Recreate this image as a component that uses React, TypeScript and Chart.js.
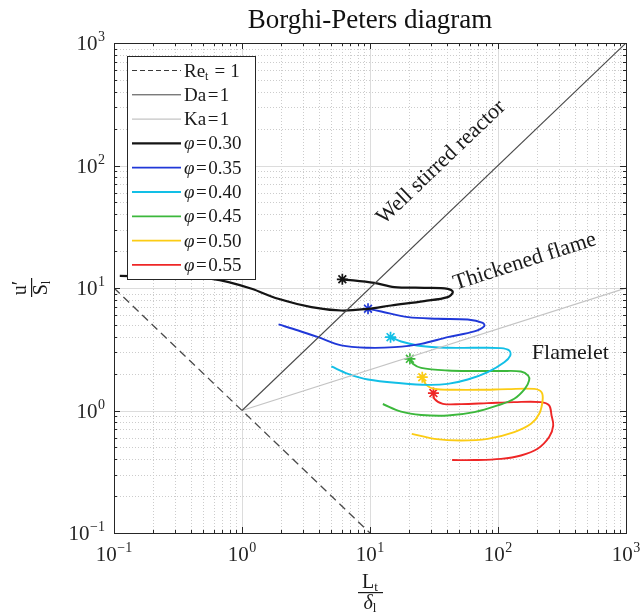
import React, { useEffect, useRef } from 'react';
import { Chart, registerables } from 'chart.js';

Chart.register(...registerables);

const SERIF = '"Liberation Serif", "DejaVu Serif", serif';
const INK = '#262626';

// Axis decades (log scale) and their exponent labels
const tickValues = [0.1, 1, 10, 100, 1000];
const tickExponents = ['\u22121', '0', '1', '2', '3'];

// Regime boundaries
const reLineX = [0.1, 10];
const reLineY = [10, 0.1];
const daLineX = [1, 1000];
const daLineY = [1, 1000];
const kaLineX = [1, 1000];
const kaLineY = [1, 10];

// Flame trajectories per equivalence ratio (first point is the start, marked with *)
const phi030X = [6.08, 10.8, 15.5, 26.5, 40.5, 44.4, 40.5, 26.5, 14.6, 9.64, 5.97, 3.49, 1.92, 1.19, 0.787, 0.579, 0.427, 0.236, 0.111];
const phi030Y = [11.78, 11.0, 10.17, 10.04, 9.85, 9.26, 8.43, 7.82, 7.2, 6.76, 6.55, 6.98, 8.16, 9.85, 11.17, 11.89, 12.11, 12.34, 12.58];

const phi035X = [9.65, 12.25, 19.8, 33.9, 58.0, 76.0, 78.2, 65.3, 40.5, 25.1, 15.5, 9.65, 5.97, 3.93, 2.75, 1.93];
const phi035Y = [6.77, 6.43, 5.78, 5.61, 5.53, 5.2, 4.89, 4.42, 3.97, 3.5, 3.29, 3.25, 3.4, 3.97, 4.5, 5.04];

const phi040X = [14.47, 17.5, 25.1, 40.5, 65.3, 105.4, 122.4, 124.7, 112, 83.1, 58, 40.5, 28.3, 17.5, 9.65, 6.74, 4.99];
const phi040Y = [3.97, 3.66, 3.36, 3.25, 3.25, 3.23, 3.09, 2.81, 2.48, 2.06, 1.79, 1.65, 1.62, 1.67, 1.79, 1.99, 2.29];

const phi045X = [20.5, 21.6, 25.1, 40.5, 65.3, 105.5, 151, 172, 175, 162, 134, 99.5, 65.3, 40.5, 25.1, 17.5, 12.6];
const phi045Y = [2.64, 2.41, 2.23, 2.12, 2.1, 2.1, 2.08, 1.93, 1.76, 1.5, 1.246, 1.1, 0.97, 0.91, 0.92, 0.98, 1.13];

const phi050X = [25.6, 27.5, 31.9, 45.6, 73.7, 119, 192, 219, 223, 210, 181, 134, 83.1, 51.5, 31.9, 21.2];
const phi050Y = [1.87, 1.62, 1.5, 1.476, 1.476, 1.495, 1.5, 1.41, 1.21, 0.94, 0.779, 0.667, 0.587, 0.569, 0.587, 0.645];

const phi055X = [31.3, 31.9, 37.1, 51.5, 83.1, 134, 216, 251, 262, 270, 251, 204, 151, 105.5, 65.3, 43.8];
const phi055Y = [1.387, 1.246, 1.134, 1.128, 1.149, 1.171, 1.171, 1.1, 0.91, 0.754, 0.607, 0.487, 0.429, 0.403, 0.394, 0.394];

const phiLabels = ['0.30', '0.35', '0.40', '0.45', '0.50', '0.55'];
const phiColors = ['#141414', '#2038d8', '#12bfe6', '#3cb83c', '#fccc14', '#ee2626'];
const phiX = [phi030X, phi035X, phi040X, phi045X, phi050X, phi055X];
const phiY = [phi030Y, phi035Y, phi040Y, phi045Y, phi050Y, phi055Y];

const toPoints = (xs: number[], ys: number[]) => xs.map((x, i) => ({ x, y: ys[i] }));

type Run = { t: string; size: number; italic?: boolean; dy?: number; gap?: number };

function runsWidth(ctx: CanvasRenderingContext2D, runs: Run[]) {
  let w = 0;
  for (const r of runs) {
    ctx.font = `${r.italic ? 'italic ' : ''}${r.size}px ${SERIF}`;
    w += (r.gap || 0) + ctx.measureText(r.t).width;
  }
  return w;
}

function drawRuns(ctx: CanvasRenderingContext2D, runs: Run[], x: number, y: number, align: 'left' | 'center' | 'right') {
  const w = runsWidth(ctx, runs);
  let cx = align === 'left' ? x : align === 'center' ? x - w / 2 : x - w;
  ctx.textAlign = 'left';
  ctx.textBaseline = 'alphabetic';
  for (const r of runs) {
    ctx.font = `${r.italic ? 'italic ' : ''}${r.size}px ${SERIF}`;
    cx += r.gap || 0;
    ctx.fillText(r.t, cx, y + (r.dy || 0));
    cx += ctx.measureText(r.t).width;
  }
}

// Dotted minor grid, solid major grid (drawn under the data)
const gridPlugin = {
  id: 'logGrid',
  beforeDatasetsDraw(chart: any) {
    const { ctx, chartArea: a, scales } = chart;
    const xs = scales.x;
    const ys = scales.y;
    ctx.save();
    ctx.lineWidth = 1;
    ctx.strokeStyle = '#cccccc';
    ctx.setLineDash([1, 2]);
    ctx.beginPath();
    for (let d = 0; d < tickValues.length - 1; d++) {
      for (let m = 2; m <= 9; m++) {
        const v = tickValues[d] * m;
        const px = Math.round(xs.getPixelForValue(v)) + 0.5;
        ctx.moveTo(px, a.top);
        ctx.lineTo(px, a.bottom);
        const py = Math.round(ys.getPixelForValue(v)) + 0.5;
        ctx.moveTo(a.left, py);
        ctx.lineTo(a.right, py);
      }
    }
    ctx.stroke();
    ctx.setLineDash([]);
    ctx.strokeStyle = '#dcdcdc';
    ctx.beginPath();
    for (let d = 1; d < tickValues.length - 1; d++) {
      const px = Math.round(xs.getPixelForValue(tickValues[d])) + 0.5;
      ctx.moveTo(px, a.top);
      ctx.lineTo(px, a.bottom);
      const py = Math.round(ys.getPixelForValue(tickValues[d])) + 0.5;
      ctx.moveTo(a.left, py);
      ctx.lineTo(a.right, py);
    }
    ctx.stroke();
    ctx.restore();
  },
};

// Axes box, inward ticks, tick labels, axis titles, regime labels, legend
const decorPlugin = {
  id: 'decor',
  afterDatasetsDraw(chart: any) {
    const { ctx, chartArea: a, scales } = chart;
    const xs = scales.x;
    const ys = scales.y;
    ctx.save();
    ctx.fillStyle = '#1a1a1a';

    // regime labels along the boundaries
    const ang = (lx: number[], ly: number[]) =>
      Math.atan2(
        ys.getPixelForValue(ly[1]) - ys.getPixelForValue(ly[0]),
        xs.getPixelForValue(lx[1]) - xs.getPixelForValue(lx[0])
      );
    const label = (text: string, x: number, y: number, angle: number) => {
      ctx.save();
      ctx.translate(xs.getPixelForValue(x), ys.getPixelForValue(y));
      ctx.rotate(angle);
      ctx.font = `22px ${SERIF}`;
      ctx.textAlign = 'center';
      ctx.textBaseline = 'middle';
      ctx.fillText(text, 0, 0);
      ctx.restore();
    };
    label('Well stirred reactor', 36, 106, ang(daLineX, daLineY));
    label('Thickened flame', 162, 16.4, ang(kaLineX, kaLineY));
    label('Flamelet', 367, 2.94, 0);

    // box
    ctx.strokeStyle = INK;
    ctx.lineWidth = 1;
    ctx.strokeRect(Math.round(a.left) + 0.5, Math.round(a.top) + 0.5, Math.round(a.right - a.left), Math.round(a.bottom - a.top));

    // inward ticks on all four sides
    ctx.beginPath();
    for (let d = 0; d < tickValues.length; d++) {
      for (let m = 1; m <= 9; m++) {
        if (d === tickValues.length - 1 && m > 1) break;
        const v = tickValues[d] * m;
        const len = m === 1 ? 6 : 3;
        const px = Math.round(xs.getPixelForValue(v)) + 0.5;
        ctx.moveTo(px, a.bottom);
        ctx.lineTo(px, a.bottom - len);
        ctx.moveTo(px, a.top);
        ctx.lineTo(px, a.top + len);
        const py = Math.round(ys.getPixelForValue(v)) + 0.5;
        ctx.moveTo(a.left, py);
        ctx.lineTo(a.left + len, py);
        ctx.moveTo(a.right, py);
        ctx.lineTo(a.right - len, py);
      }
    }
    ctx.stroke();

    // tick labels
    ctx.fillStyle = INK;
    tickValues.forEach((v, i) => {
      const runs: Run[] = [
        { t: '10', size: 21 },
        { t: tickExponents[i], size: 14, dy: -9, gap: 0.5 },
      ];
      drawRuns(ctx, runs, xs.getPixelForValue(v), a.bottom + 28, 'center');
      drawRuns(ctx, runs, a.left - 9, ys.getPixelForValue(v) + 7, 'right');
    });

    // x axis title: L_t / δ_l
    const xc = (a.left + a.right) / 2;
    ctx.fillStyle = '#1a1a1a';
    drawRuns(ctx, [{ t: 'L', size: 20 }, { t: 't', size: 13, dy: 3 }], xc, a.bottom + 55, 'center');
    ctx.fillRect(xc - 12, a.bottom + 59, 25, 1.2);
    drawRuns(ctx, [{ t: '\u03B4', size: 20, italic: true }, { t: 'l', size: 13, dy: 3 }], xc, a.bottom + 76, 'center');

    // y axis title: u' / S_l (rotated)
    ctx.save();
    ctx.translate(31, (a.top + a.bottom) / 2);
    ctx.rotate(-Math.PI / 2);
    drawRuns(ctx, [{ t: 'u\u2032', size: 20 }], 0, -5, 'center');
    ctx.fillRect(-9, 0, 19, 1.2);
    drawRuns(ctx, [{ t: 'S', size: 20 }, { t: 'l', size: 13, dy: 3 }], 0, 16, 'center');
    ctx.restore();

    // title
    ctx.fillStyle = '#111';
    drawRuns(ctx, [{ t: 'Borghi-Peters diagram', size: 27 }], xc, 28, 'center');
    ctx.restore();
  },
  afterDraw(chart: any) {
    const { ctx, chartArea: a } = chart;
    ctx.save();
    const bx = a.left + 13;
    const by = a.top + 13;
    const bw = 128;
    const bh = 223;
    ctx.fillStyle = '#ffffff';
    ctx.fillRect(bx, by, bw, bh);
    ctx.strokeStyle = INK;
    ctx.lineWidth = 1;
    ctx.strokeRect(Math.round(bx) + 0.5, Math.round(by) + 0.5, bw, bh);

    type Entry = { color: string; width: number; dash: number[]; runs: Run[] };
    const eq = (v: string): Run[] => [
      { t: '=', size: 19, gap: 1.5 },
      { t: v, size: 19, gap: 1.5 },
    ];
    const entries: Entry[] = [
      {
        color: '#3a3a3a', width: 1.2, dash: [5, 3],
        runs: [{ t: 'Re', size: 19 }, { t: 't', size: 12, dy: 3 }, { t: '=', size: 19, gap: 6 }, { t: '1', size: 19, gap: 5 }],
      },
      { color: '#444444', width: 1, dash: [], runs: [{ t: 'Da', size: 19 }, ...eq('1')] },
      { color: '#c4c4c4', width: 1.2, dash: [], runs: [{ t: 'Ka', size: 19 }, ...eq('1')] },
      ...phiLabels.map((p, i) => ({
        color: phiColors[i], width: i === 0 ? 2.2 : 1.8, dash: [] as number[],
        runs: [{ t: '\u03C6', size: 19, italic: true }, ...eq(p)],
      })),
    ];
    entries.forEach((e, i) => {
      const y = by + 14.5 + i * 24.3;
      ctx.strokeStyle = e.color;
      ctx.lineWidth = e.width;
      ctx.setLineDash(e.dash);
      ctx.beginPath();
      ctx.moveTo(bx + 5, y);
      ctx.lineTo(bx + 54, y);
      ctx.stroke();
      ctx.setLineDash([]);
      ctx.fillStyle = '#1a1a1a';
      drawRuns(ctx, e.runs, bx + 57, y + 6, 'left');
    });
    ctx.restore();
  },
};

export default function App() {
  const canvasRef = useRef<HTMLCanvasElement | null>(null);

  useEffect(() => {
    if (!canvasRef.current) return;
    const boundaries = [
      { label: 'Re_t = 1', xs: reLineX, ys: reLineY, color: '#4a4a4a', width: 1.3, dash: [8, 5] },
      { label: 'Da=1', xs: daLineX, ys: daLineY, color: '#4a4a4a', width: 1.1, dash: [] as number[] },
      { label: 'Ka=1', xs: kaLineX, ys: kaLineY, color: '#c4c4c4', width: 1.3, dash: [] as number[] },
    ];
    const datasets: any[] = [
      ...boundaries.map((b) => ({
        label: b.label,
        data: toPoints(b.xs, b.ys),
        borderColor: b.color,
        borderWidth: b.width,
        borderDash: b.dash,
        pointRadius: 0,
        tension: 0,
      })),
      ...phiLabels.map((p, i) => ({
        label: `\u03C6=${p}`,
        data: toPoints(phiX[i], phiY[i]),
        borderColor: phiColors[i],
        backgroundColor: phiColors[i],
        borderWidth: i === 0 ? 2.2 : 1.9,
        tension: 0.35,
        pointStyle: 'star',
        pointRadius: (c: any) => (c.dataIndex === 0 ? 5.5 : 0),
        pointBorderColor: phiColors[i],
        pointBorderWidth: 1.7,
        pointHoverRadius: 0,
      })),
    ];

    const chart = new Chart(canvasRef.current, {
      type: 'line',
      data: { datasets },
      options: {
        animation: false,
        responsive: true,
        maintainAspectRatio: false,
        events: [],
        layout: { padding: { top: 43, right: 15, bottom: 0, left: 0 } },
        plugins: {
          legend: { display: false },
          title: { display: false },
          tooltip: { enabled: false },
        },
        scales: {
          x: {
            type: 'logarithmic',
            min: 0.1,
            max: 1000,
            ticks: { display: false },
            grid: { display: false, drawTicks: false },
            border: { display: false },
            afterFit: (s: any) => {
              s.height = 82;
            },
          },
          y: {
            type: 'logarithmic',
            min: 0.1,
            max: 1000,
            ticks: { display: false },
            grid: { display: false, drawTicks: false },
            border: { display: false },
            afterFit: (s: any) => {
              s.width = 114;
            },
          },
        },
      },
      plugins: [gridPlugin, decorPlugin],
    });
    return () => chart.destroy();
  }, []);

  return (
    <div style={{ position: 'fixed', left: 0, top: 0, width: 641, height: 615, background: '#ffffff' }}>
      <canvas ref={canvasRef} />
    </div>
  );
}
